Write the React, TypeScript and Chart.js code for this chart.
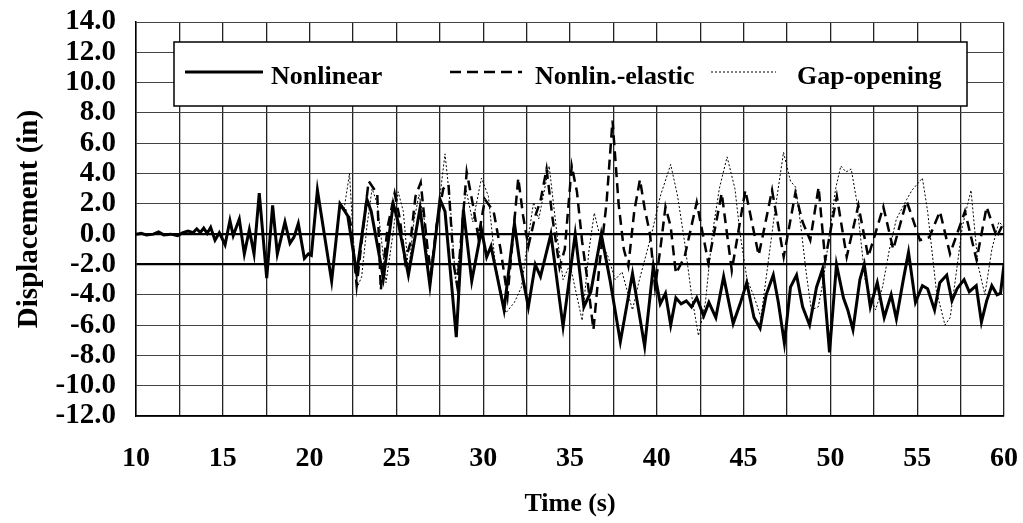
import React, { useEffect, useRef } from 'react';
import { Chart, registerables } from 'chart.js';
Chart.register(...registerables);

const FONT = "'Liberation Serif', 'Times New Roman', serif";

const seriesNames = ['Nonlinear', 'Nonlin.-elastic', 'Gap-opening'];
const yTickValues = [-12, -10, -8, -6, -4, -2, 0, 2, 4, 6, 8, 10, 12, 14];
const xLabelValues = [10, 15, 20, 25, 30, 35, 40, 45, 50, 55, 60];

const nonlinearT = [
  10.0, 10.3, 10.6, 11.0, 11.3, 11.6, 12.0, 12.4, 12.7, 13.0, 13.3, 13.5, 13.7, 13.9, 14.1, 14.3, 14.55, 14.8,
  15.13, 15.41, 15.6, 15.95, 16.24, 16.53, 16.8, 17.1, 17.53, 17.87, 18.14, 18.58, 18.87, 19.1, 19.35, 19.7,
  19.93, 20.1, 20.45, 21.27, 21.75, 21.98, 22.2, 22.71, 23.3, 23.55, 24.25, 24.82, 25.1, 25.69, 26.36, 26.93,
  27.51, 27.8, 28.45, 28.86, 29.34, 29.9, 30.2, 30.45, 31.2, 31.8, 32.1, 32.6, 33.0, 33.3, 33.9, 34.6, 35.3,
  35.8, 36.2, 36.8, 37.3, 37.9, 38.6, 39.3, 39.8, 40.2, 40.5, 40.8, 41.1, 41.4, 41.7, 42.0, 42.3, 42.7, 43.0,
  43.4, 43.85, 44.4, 44.8, 45.18, 45.6, 45.95, 46.3, 46.71, 47.0, 47.35, 47.7, 48.05, 48.4, 48.8, 49.2, 49.55,
  49.95, 50.35, 50.75, 51.0, 51.3, 51.7, 51.95, 52.3, 52.7, 53.1, 53.5, 53.8, 54.2, 54.5, 54.9, 55.3, 55.6,
  56.0, 56.3, 56.7, 57.0, 57.3, 57.7, 58.0, 58.4, 58.7, 59.0, 59.3, 59.6, 59.8, 60.0,
];
const nonlinearV = [
  0.0, 0.05, -0.05, 0.0, 0.15, -0.05, 0.0, -0.1, 0.1, 0.2, 0.1, 0.35, 0.1, 0.4, 0.05, 0.45, -0.4, 0.1,
  -0.7, 0.9, -0.1, 1.0, -1.3, 0.3, -1.3, 2.7, -2.9, 1.9, -1.3, 0.8, -0.6, -0.2, 0.7, -1.6,
  -1.3, -1.4, 2.9, -3.1, 2.0, 1.6, 1.2, -2.6, 2.3, 1.5, -2.9, 2.0, 0.8, -2.7, 1.7, -3.4,
  2.3, 1.5, -6.8, 1.6, -3.1, 0.3, -1.5, -0.8, -5.0, 0.7, -1.8, -4.8, -2.0, -2.8, 0.0, -6.1, 0.0,
  -4.8, -3.8, 0.0, -3.0, -7.1, -2.6, -7.4, -2.1, -4.6, -3.9, -6.0, -4.2, -4.6, -4.4, -4.8, -4.2, -5.4, -4.5,
  -5.5, -2.8, -5.9, -4.6, -3.2, -5.5, -6.2, -4.0, -2.7, -4.5, -7.2, -3.5, -2.7, -4.8, -6.0, -3.5, -2.3,
  -7.8, -2.0, -4.2, -5.0, -6.3, -3.0, -2.0, -4.8, -3.2, -5.5, -4.0, -5.6, -3.0, -1.2, -4.5, -3.4, -3.6,
  -5.0, -3.2, -2.7, -4.4, -3.6, -3.0, -3.8, -3.4, -5.8, -4.4, -3.4, -4.0, -3.9, -2.0,
];

const elasticT = [
  21.75, 21.98, 22.2, 22.4, 22.71, 23.0, 23.4, 23.7, 23.9, 24.1, 24.5, 24.9, 25.2, 25.5, 25.8, 26.1, 26.4,
  26.8, 27.0, 27.3, 27.7, 28.0, 28.3, 28.5, 29.05, 29.43, 29.72, 30.1, 30.6, 31.0, 31.4, 32.02, 32.3, 32.6,
  33.0, 33.3, 33.65, 34.0, 34.4, 34.7, 35.1, 35.4, 35.7, 36.0, 36.35, 36.7, 37.1, 37.45, 37.8, 38.1, 38.36,
  38.7, 39.03, 39.3, 39.61, 39.9, 40.2, 40.5, 40.8, 41.1, 41.6, 42.3, 42.97, 43.74, 44.32, 45.1, 45.87,
  46.64, 47.31, 47.98, 48.4, 48.84, 49.32, 49.7, 50.37, 50.94, 51.61, 52.18, 53.05, 53.62, 54.39, 55.16,
  55.7, 56.31, 56.89, 57.75, 58.42, 59.0, 59.58, 60.0,
];
const elasticV = [
  2.0, 1.6, 1.5, 0.5, -3.4, -0.5, 3.5, 3.0, 2.6, -3.7, 0.5, 2.7, 1.0, -1.8, -0.6, 2.5, 3.4,
  -1.0, -2.6, 0.5, 3.0, 3.3, -2.0, -3.4, 4.1, 1.8, -0.2, 2.3, 1.5, -1.0, -4.1, 3.7, 1.2, -0.8,
  1.2, 2.2, 4.3, 1.0, -2.2, -1.0, 4.5, 2.8, -0.5, -3.0, -6.3, -2.0, 2.0, 7.5, 2.0, -1.0, -2.1,
  1.5, 3.6, 1.7, 0.0, -3.5, -1.0, 1.8, 0.5, -2.6, -1.5, 2.1, -1.9, 2.7, -2.4, 2.9, -1.4,
  2.9, -1.5, 2.7, 0.8, -0.4, 3.1, -1.7, 2.5, -1.5, 1.9, -1.5, 1.8, -1.0, 2.2, -0.4,
  -0.2, 1.5, -1.3, 1.5, -1.7, 1.8, -0.2, 0.8,
];

const gapT = [
  21.75, 21.98, 22.3, 22.5, 22.75, 23.0, 23.3, 23.6, 23.9, 24.2, 24.4, 24.8, 25.1, 25.4, 25.7, 26.0, 26.3,
  26.6, 26.9, 27.3, 27.8, 28.1, 28.4, 28.7, 29.0, 29.4, 29.9, 30.3, 30.7, 31.3, 31.8, 32.2, 32.5, 32.9, 33.2,
  33.8, 34.3, 34.6, 35.0, 35.7, 36.1, 36.4, 36.8, 37.2, 37.6, 38.0, 38.6, 39.0, 39.7, 40.2, 40.8, 41.2, 41.6,
  42.0, 42.4, 42.8, 43.2, 43.6, 44.05, 44.5, 44.8, 45.2, 45.6, 46.0, 46.4, 46.8, 47.3, 47.7, 48.0, 48.3, 48.6,
  48.9, 49.3, 49.6, 50.0, 50.3, 50.6, 50.9, 51.2, 51.5, 52.0, 52.3, 52.6, 53.0, 53.4, 53.8, 54.4, 54.7, 55.3,
  55.6, 56.1, 56.6, 56.9, 57.2, 57.6, 58.1, 58.5, 58.9, 59.3, 59.7, 60.0,
];
const gapV = [
  2.0, 1.6, 4.0, 0.0, -3.5, -2.8, 0.5, 3.0, 2.0, -1.0, -3.2, 0.0, 2.8, 1.5, -2.5, 0.8, 2.6,
  1.0, -3.0, 0.5, 5.3, 2.0, -3.0, -1.0, 3.0, 0.8, 3.7, 2.5, -2.0, -5.2, -4.5, -3.5, -1.0, 2.1, 1.0,
  4.5, -0.5, -3.0, -2.0, -5.7, -1.0, 1.4, -0.5, -1.5, -3.0, -2.5, -5.0, -3.0, 0.0, 2.5, 4.6, 2.5, -0.5,
  -4.0, -6.7, -4.5, 0.0, 3.0, 5.1, 3.0, 0.0, -3.0, -4.1, -5.5, -2.0, 1.5, 5.4, 3.5, 3.1, 0.5, -2.5,
  -5.0, -4.8, -3.0, 0.5, 3.0, 4.5, 4.1, 4.3, 2.3, -3.0, -4.1, -5.0, -3.5, -1.0, 1.0, 2.3, 2.9, 3.7,
  1.5, -3.7, -6.0, -5.5, -3.0, 0.5, 2.9, -2.0, -4.0, -1.0, 0.8, 0.5,
];

const toPoints = (t: number[], v: number[]) => t.map((x, i) => ({ x, y: v[i] }));

const legendPlugin = {
  id: 'boxLegend',
  afterDraw(chart: any) {
    const ctx = chart.ctx as CanvasRenderingContext2D;
    ctx.save();
    ctx.fillStyle = '#fff';
    ctx.fillRect(174, 42, 793, 64);
    ctx.strokeStyle = '#000';
    ctx.lineWidth = 1.5;
    ctx.strokeRect(174, 42, 793, 64);
    const y = 72;
    const items = [
      { x0: 185, x1: 263, tx: 271, w: 3, dash: [] as number[] },
      { x0: 450, x1: 522, tx: 535, w: 2.5, dash: [11, 6] },
      { x0: 711, x1: 776, tx: 797, w: 1, dash: [2, 2] },
    ];
    items.forEach((it, i) => {
      ctx.beginPath();
      ctx.setLineDash(it.dash);
      ctx.lineWidth = it.w;
      ctx.moveTo(it.x0, y);
      ctx.lineTo(it.x1, y);
      ctx.stroke();
      ctx.setLineDash([]);
      ctx.fillStyle = '#000';
      ctx.font = `bold 26px ${FONT}`;
      ctx.textBaseline = 'alphabetic';
      ctx.textAlign = 'left';
      ctx.fillText(seriesNames[i], it.tx, 84);
    });
    ctx.restore();
  },
};

export default function App() {
  const ref = useRef<HTMLCanvasElement>(null);
  useEffect(() => {
    document.body.style.margin = '0';
    const chart = new Chart(ref.current!, {
      type: 'line',
      data: {
        datasets: [
          {
            label: seriesNames[0],
            data: toPoints(nonlinearT, nonlinearV),
            borderColor: '#000',
            borderWidth: 3,
            pointRadius: 0,
            tension: 0,
          },
          {
            label: seriesNames[1],
            data: toPoints(elasticT, elasticV),
            borderColor: '#000',
            borderWidth: 2.5,
            borderDash: [10, 6],
            pointRadius: 0,
            tension: 0,
          },
          {
            label: seriesNames[2],
            data: toPoints(gapT, gapV),
            borderColor: '#000',
            borderWidth: 1,
            borderDash: [2, 2],
            pointRadius: 0,
            tension: 0,
          },
        ],
      },
      options: {
        responsive: false,
        animation: false,
        events: [],
        layout: { padding: { left: 0, right: 19, top: 22, bottom: 0 } },
        plugins: { legend: { display: false }, tooltip: { enabled: false } },
        scales: {
          x: {
            type: 'linear',
            min: 10,
            max: 60,
            afterFit: (s: any) => {
              s.height = 107;
              s.paddingLeft = 0;
              s.paddingRight = 0;
            },
            afterBuildTicks: (s: any) => {
              const arr = [];
              for (let v = 10; v <= 60; v += 2.5) arr.push({ value: v });
              s.ticks = arr;
            },
            ticks: {
              autoSkip: false,
              maxRotation: 0,
              padding: 26,
              color: '#000',
              font: { family: FONT, size: 28, weight: 'bold' },
              callback: (v: any) => (xLabelValues.includes(Number(v)) ? String(v) : ''),
            },
            grid: { color: '#222', lineWidth: 1.3, drawTicks: false },
            border: { color: '#000', width: 1.5 },
            title: {
              display: true,
              text: 'Time (s)',
              color: '#000',
              font: { family: FONT, size: 26, weight: 'bold' },
              padding: { top: 0, bottom: 3 },
            },
          },
          y: {
            type: 'linear',
            min: -12,
            max: 14,
            afterFit: (s: any) => {
              s.width = 136;
              s.paddingTop = 0;
              s.paddingBottom = 0;
            },
            afterBuildTicks: (s: any) => { s.ticks = yTickValues.map((value) => ({ value })); },
            ticks: {
              autoSkip: false,
              padding: 20,
              color: '#000',
              font: { family: FONT, size: 29, weight: 'bold' },
              callback: (v: any) => Number(v).toFixed(1),
            },
            grid: {
              drawTicks: false,
              color: (c: any) => (c.tick && (c.tick.value === 0 || c.tick.value === -2) ? '#000' : '#444'),
              lineWidth: (c: any) => (c.tick && (c.tick.value === 0 || c.tick.value === -2) ? 2.2 : 1),
            },
            border: { color: '#000', width: 1.5 },
            title: {
              display: true,
              text: 'Displacement (in)',
              color: '#000',
              font: { family: FONT, size: 29, weight: 'bold' },
              padding: { top: 12, bottom: 0 },
            },
          },
        },
      },
      plugins: [legendPlugin],
    } as any);
    return () => chart.destroy();
  }, []);
  return (
    <div style={{ position: 'absolute', left: 0, top: 0, width: 1023, height: 523, background: '#fff' }}>
      <canvas ref={ref} width={1023} height={523} style={{ display: 'block' }} />
    </div>
  );
}
